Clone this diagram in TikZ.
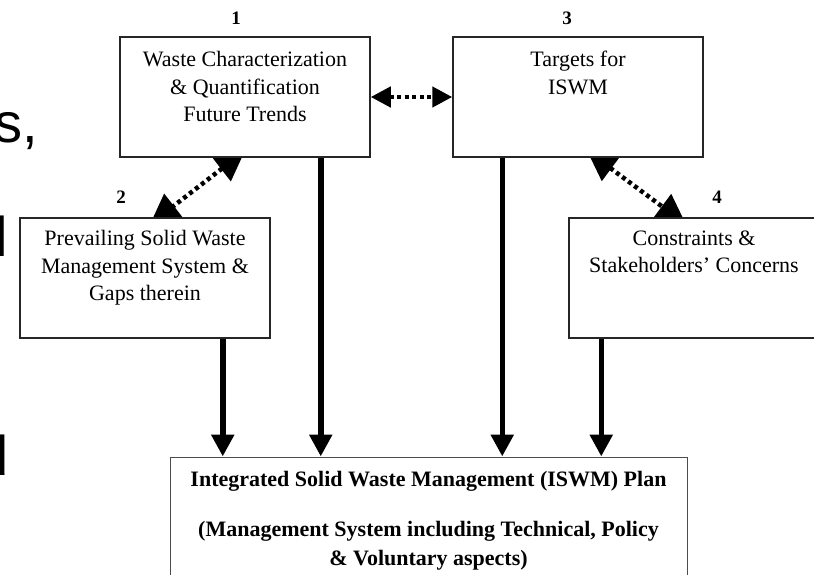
\documentclass[tikz,border=0pt]{standalone}
\usepackage{fontspec}
\setmainfont{Liberation Serif}
\newfontfamily\slidefont{Liberation Sans}
\usetikzlibrary{positioning,calc,arrows.meta,backgrounds}

\tikzset{
    stage/.style={draw=black!85, line width=1.5pt, fill=white,
        minimum width=250pt, minimum height=120pt, inner sep=0pt},
    stagetext/.style={align=center, inner sep=0pt,
        font=\fontsize{22}{27.5}\selectfont},
    num/.style={inner sep=0pt, font=\bfseries\fontsize{19}{19}\selectfont},
    slideword/.style={inner sep=0pt, font=\slidefont\fontsize{56}{60}\selectfont},
    link/.style={line width=4.5pt, dash pattern=on 4pt off 3.5pt,
        {Triangle[length=#1,width=#1]}-{Triangle[length=#1,width=#1]}},
    link/.default=30pt,
    feed/.style={line width=5.5pt, -{Triangle[length=22pt,width=22pt]}}
}

\begin{document}
\begin{tikzpicture}[x=1pt,y=1pt]
    % Page frame
    \useasboundingbox (0,0) rectangle (814,574);
    \clip (0,0) rectangle (814,574);

    % Words of the slide behind the chart
    \node[slideword, anchor=base west] (wordS) at (-6,431) {s,};
    \node[slideword, anchor=base east] (wordL) at (8,317) {l};
    \node[slideword, anchor=base east] (wordD) at (9,99) {d};

    % The four stage boxes
    \node[stage] (waste) at (245,477) {};
    \node[stage] (targets) at (578,477) {};
    \node[stage] (gaps) at (145,296) {};
    \node[stage] (concerns) at (694,296) {};

    \node[stagetext, below=15pt of waste.north] (wasteText)
        {Waste Characterization\\ \& Quantification\\ Future Trends};
    \node[stagetext, below=15pt of targets.north] (targetsText)
        {Targets for\\ ISWM};
    \node[stagetext, below=13pt of gaps.north] (gapsText)
        {Prevailing Solid Waste\\ Management System \&\\ Gaps therein};
    \node[stagetext, below=13pt of concerns.north] (concernsText)
        {Constraints \&\\ Stakeholders' Concerns};

    % Stage numbers
    \node[num] (num1) at (236,556) {1};
    \node[num] (num2) at (121,377) {2};
    \node[num] (num3) at (567,556) {3};
    \node[num] (num4) at (717,377) {4};

    % The plan at the bottom
    \node[stage, minimum width=517pt, minimum height=133pt,
        line width=1pt, draw=black!70] (plan) at (428.5,50.5) {};
    \node[stagetext, font=\bfseries\fontsize{22}{29}\selectfont,
        below=15pt of plan.north] (planText)
        {Integrated Solid Waste Management (ISWM) Plan\\[21pt]
         (Management System including Technical, Policy\\
         \& Voluntary aspects)};

    % Connectors, kept behind the boxes
    \coordinate (gapsOut) at ($(gaps.south east)+(-48,0)$);
    \coordinate (wasteOut) at ($(waste.south east)+(-50,0)$);
    \coordinate (targetsOut) at ($(targets.south west)+(50,0)$);
    \coordinate (concernsOut) at ($(concerns.south west)+(33,0)$);
    \begin{scope}[on background layer]
        \draw[link=20pt] (waste.east) -- (targets.west);
        \draw[link] ($(waste.south)+(0,7)$) -- ($(gaps.north)+(5,-7)$);
        \draw[link] ($(targets.south)+(9,7)$) -- ($(concerns.north)+(-8,-7)$);
        \draw[feed] (gapsOut) -- (gapsOut |- plan.north);
        \draw[feed] (wasteOut) -- (wasteOut |- plan.north);
        \draw[feed] (targetsOut) -- (targetsOut |- plan.north);
        \draw[feed] (concernsOut) -- (concernsOut |- plan.north);
    \end{scope}
\end{tikzpicture}
\end{document}
